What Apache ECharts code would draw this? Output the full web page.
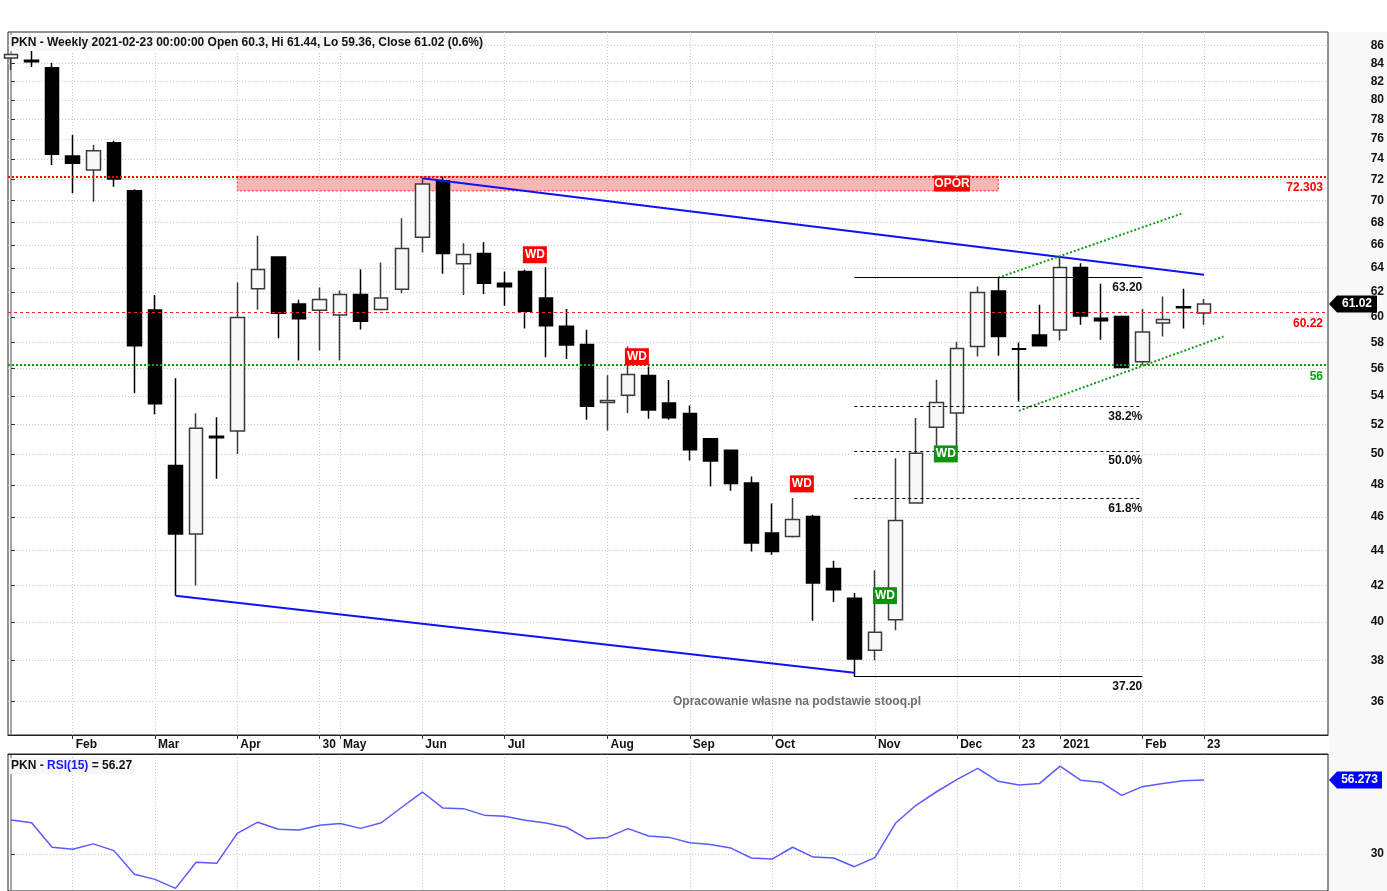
<!DOCTYPE html>
<html>
<head>
<meta charset="utf-8">
<script src="https://cdn.jsdelivr.net/npm/echarts@6/dist/echarts.min.js"></script>
<style>
  html, body { margin: 0; padding: 0; background: #fff; }
  #main { width: 1387px; height: 891px; }
</style>
</head>
<body>
<div id="main"></div>
<script>
// weekly bars, PKN, Jan 2020 - Feb 2021
const dates = ['2020-01-17','2020-01-24','2020-01-31','2020-02-07','2020-02-14','2020-02-21','2020-02-28',
  '2020-03-06','2020-03-13','2020-03-20','2020-03-27','2020-04-03','2020-04-09','2020-04-17','2020-04-24',
  '2020-04-30','2020-05-08','2020-05-15','2020-05-22','2020-05-29','2020-06-05','2020-06-12','2020-06-19',
  '2020-06-26','2020-07-03','2020-07-10','2020-07-17','2020-07-24','2020-07-31','2020-08-07','2020-08-14',
  '2020-08-21','2020-08-28','2020-09-04','2020-09-11','2020-09-18','2020-09-25','2020-10-02','2020-10-09',
  '2020-10-16','2020-10-23','2020-10-30','2020-11-06','2020-11-13','2020-11-20','2020-11-27','2020-12-04',
  '2020-12-11','2020-12-18','2020-12-23','2020-12-30','2021-01-08','2021-01-15','2021-01-22','2021-01-29',
  '2021-02-05','2021-02-12','2021-02-19','2021-02-23'];
const opens = [84.6, 84.35, 83.52, 74.29, 72.92, 75.61, 70.94, 60.55, 49.25, 44.96, 51.2, 51.55, 62.27, 64.95, 61.02,
  60.53, 60.15, 61.80, 60.58, 62.24, 66.69, 71.89, 64.37, 65.26, 62.74, 63.72, 61.51, 59.25, 57.84, 53.55,
  54.06, 55.50, 53.51, 52.77, 51.03, 50.26, 48.11, 45.03, 44.81, 46.02, 42.95, 41.29, 38.53, 40.13, 46.86,
  51.82, 52.80, 57.68, 62.10, 57.50, 58.56, 58.95, 64.05, 59.89, 60.02, 56.52, 59.50, 60.80, 60.3];
const closes = [85.0, 84.2, 74.45, 73.57, 74.81, 72.05, 57.73, 53.45, 44.96, 51.75, 51.1, 59.94, 63.88, 60.29, 59.84,
  61.39, 61.80, 59.65, 61.51, 65.69, 71.58, 65.26, 65.17, 62.74, 62.44, 60.45, 59.29, 57.80, 53.27, 53.69,
  55.58, 53.02, 52.47, 50.28, 49.54, 48.08, 44.43, 43.93, 45.84, 42.13, 41.76, 38.09, 39.47, 45.78, 50.06,
  53.55, 57.52, 61.96, 58.45, 57.46, 57.73, 64.05, 60.07, 59.68, 56.09, 58.79, 59.78, 60.72, 61.02];
const highs = [85.1, 85.4, 84.08, 76.39, 75.38, 75.81, 71.07, 61.77, 55.30, 52.79, 52.51, 62.79, 66.81, 64.98, 61.37,
  62.38, 62.13, 63.92, 64.48, 68.39, 72.12, 72.27, 66.16, 66.25, 63.72, 63.86, 64.07, 60.62, 58.97, 55.52,
  57.68, 56.17, 55.17, 53.34, 51.08, 50.30, 48.54, 46.82, 47.17, 46.13, 43.40, 41.58, 42.85, 49.73, 52.45,
  55.19, 58.05, 62.46, 63.20, 57.98, 60.96, 64.95, 64.43, 62.69, 60.10, 60.62, 61.64, 62.27, 61.44];
const lows = [83.27, 83.6, 73.40, 70.70, 69.91, 71.32, 54.21, 52.72, 41.42, 41.99, 48.38, 50.00, 60.56, 58.32, 56.62,
  57.37, 56.62, 59.00, 60.50, 61.91, 65.34, 63.52, 61.77, 61.85, 60.88, 59.07, 56.86, 56.72, 52.33, 51.59,
  52.80, 52.40, 52.33, 49.58, 47.89, 47.63, 43.93, 43.74, 44.75, 40.07, 41.08, 37.20, 38.02, 39.57, 46.82,
  50.20, 50.28, 56.92, 56.97, 53.62, 57.73, 58.13, 59.36, 58.19, 56.07, 56.29, 58.45, 59.07, 59.36];
const rsi = [42.07, 41.1, 32.4, 31.7, 33.6, 31.2, 22.8, 21.0, 17.8, 27.1, 26.7, 37.3, 41.3, 38.8, 38.5, 40.2,
  40.8, 39.1, 41.1, 46.6, 52.0, 46.3, 46.1, 43.8, 43.4, 42.0, 41.0, 39.5, 35.4, 35.9, 39.0, 36.4, 35.9,
  34.0, 33.4, 32.1, 28.6, 28.2, 32.4, 28.9, 28.6, 25.5, 28.7, 40.9, 47.3, 52.1, 56.5, 60.4, 55.8, 54.5,
  55.0, 61.2, 56.2, 55.5, 50.8, 53.9, 55.0, 56.0, 56.27];

// x-axis labels (bar index -> text)
const tickIdx = [3, 7, 11, 15, 16, 20, 24, 29, 33, 37, 42, 46, 49, 51, 55, 58];
const tickLabels = ['Feb', 'Mar', 'Apr', '30', 'May', 'Jun', 'Jul', 'Aug', 'Sep', 'Oct', 'Nov', 'Dec', '23', '2021', 'Feb', '23'];
const priceTicks = [36, 38, 40, 42, 44, 46, 48, 50, 52, 54, 56, 58, 60, 62, 64, 66, 68, 70, 72, 74, 76, 78, 80, 82, 84, 86];
const rsiTicks = [30];

// drawings
const resistance = 72.303, pivot = 60.22, support = 56;
const zoneBottom = 70.92, zoneFrom = 11, zoneTo = 48;
const upperChannel = [[20, 72.12], [58, 63.45]];
const lowerChannel = [[8, 41.42], [41, 37.40]];
const greenUpper = [[48, 63.2], [56.9, 68.8]];
const greenLower = [[49, 52.96], [58.95, 58.45]];
const fibLevels = [63.20, 53.27, 50.20, 47.13, 37.20];
const fibLabels = ['63.20', '38.2%', '50.0%', '61.8%', '37.20'];
const fibFrom = 41, fibTo = 55;
const wdMarks = [[25.47, 65.15, 'r'], [30.43, 56.90, 'r'], [38.45, 48.06, 'r'], [45.45, 50.01, 'g'], [42.49, 41.43, 'g']];

const L = Math.log;
const FONT = 'Liberation Sans';
const xMin = -0.146, xMax = 64.03;

const candleData = dates.map((d, i) => [i, L(opens[i]), L(closes[i]), L(lows[i]), L(highs[i])]);

const fibLines = fibLevels.map((v, i) => {
  const solid = i === 0 || i === fibLevels.length - 1;
  return [
    { coord: [fibFrom, L(v)], lineStyle: { color: '#000', width: 1, type: solid ? 'solid' : [3, 3] },
      label: { show: true, formatter: fibLabels[i], position: 'insideEndBottom', color: '#111', fontWeight: 'bold', fontSize: 12, fontFamily: FONT, distance: [0, 4] } },
    { coord: [fibTo, L(v)] }
  ];
});

const wdPoints = wdMarks.map(m => ({
  coord: [m[0], L(m[1])],
  symbol: 'rect', symbolSize: [24, 17],
  itemStyle: { color: m[2] === 'r' ? '#ff0000' : '#129012' },
  label: { show: true, formatter: 'WD', color: '#fff', fontWeight: 'bold', fontSize: 12, fontFamily: FONT }
}));

const axisLabelStyle = { color: '#111', fontWeight: 'bold', fontSize: 12, fontFamily: FONT };
const gridDots = { show: true, lineStyle: { color: '#c9c9c9', type: [1, 2], width: 1 } };

const option = {
  animation: false,
  backgroundColor: '#fff',
  grid: [
    { left: 8, top: 32, width: 1320, height: 703, show: true, borderColor: '#222', borderWidth: 1, backgroundColor: '#fff' },
    { left: 8, top: 754, width: 1320, height: 140, show: true, borderColor: '#222', borderWidth: 1, backgroundColor: '#fff' }
  ],
  xAxis: [
    {
      type: 'value', gridIndex: 0, min: xMin, max: xMax, position: 'bottom',
      axisLine: { show: true, lineStyle: { color: '#222' } },
      axisTick: { show: true, length: 4, customValues: tickIdx, lineStyle: { color: '#333' } },
      axisLabel: Object.assign({ customValues: tickIdx, align: 'left', margin: 4, padding: [0, 0, 0, 3],
        formatter: v => tickLabels[tickIdx.indexOf(Math.round(v))] }, axisLabelStyle),
      splitLine: gridDots
    },
    {
      type: 'value', gridIndex: 1, min: xMin, max: xMax, position: 'top',
      axisLine: { show: true, lineStyle: { color: '#222' } },
      axisTick: { show: false, customValues: tickIdx },
      axisLabel: { show: false, customValues: tickIdx },
      splitLine: gridDots
    }
  ],
  yAxis: [
    {
      type: 'value', gridIndex: 0, position: 'right', min: L(34.43), max: L(87.58),
      axisLine: { show: true, lineStyle: { color: '#888', width: 1.5 } },
      axisTick: { show: true, length: 4, customValues: priceTicks.map(L), lineStyle: { color: '#333' } },
      axisLabel: Object.assign({ customValues: priceTicks.map(L), align: 'right', margin: 56,
        formatter: v => String(Math.round(Math.exp(v))) }, axisLabelStyle),
      splitLine: gridDots
    },
    {
      type: 'value', gridIndex: 1, position: 'right', min: 16.87, max: 65.5,
      axisLine: { show: true, lineStyle: { color: '#888', width: 1.5 } },
      axisTick: { show: true, length: 4, customValues: rsiTicks, lineStyle: { color: '#333' } },
      axisLabel: Object.assign({ customValues: rsiTicks, align: 'right', margin: 56 }, axisLabelStyle),
      splitLine: gridDots
    }
  ],
  series: [
    {
      name: 'PKN', type: 'candlestick', xAxisIndex: 0, yAxisIndex: 0,
      encode: { x: 0, y: [1, 2, 3, 4] },
      barWidth: 14,
      data: candleData,
      itemStyle: { color: '#f8f8f8', color0: '#000', borderColor: '#3a3a3a', borderColor0: '#000', borderWidth: 1.5 },
      markArea: {
        silent: true,
        itemStyle: { color: 'rgba(242,110,110,0.5)', borderColor: '#ff3030', borderType: [2, 2], borderWidth: 1 },
        data: [[{ xAxis: zoneFrom, yAxis: L(resistance) }, { xAxis: zoneTo, yAxis: L(zoneBottom) }]]
      },
      markLine: {
        silent: true, symbol: 'none',
        data: [
          { yAxis: L(resistance), lineStyle: { color: '#ff0000', type: [2, 2], width: 2 },
            label: { formatter: String(resistance), position: 'insideEndBottom', color: '#ff0000', fontWeight: 'bold', fontSize: 12, fontFamily: FONT } },
          { yAxis: L(pivot), lineStyle: { color: '#ff2020', type: [3, 3], width: 1 },
            label: { formatter: String(pivot), position: 'insideEndBottom', color: '#ff0000', fontWeight: 'bold', fontSize: 12, fontFamily: FONT } },
          { yAxis: L(support), lineStyle: { color: '#129a12', type: [2, 2], width: 2 },
            label: { formatter: String(support), position: 'insideEndBottom', color: '#129a12', fontWeight: 'bold', fontSize: 12, fontFamily: FONT } }
        ].concat(fibLines)
      },
      markPoint: {
        silent: true,
        data: wdPoints.concat([{
          coord: [45.75, L(71.62)], symbol: 'rect', symbolSize: [36, 16],
          itemStyle: { color: '#ff0000' },
          label: { show: true, formatter: 'OPÓR', color: '#fff', fontWeight: 'bold', fontSize: 12, fontFamily: FONT }
        }])
      },
      z: 3
    },
    {
      name: 'upper', type: 'line', xAxisIndex: 0, yAxisIndex: 0, symbol: 'none', silent: true,
      data: upperChannel.map(p => [p[0], L(p[1])]),
      lineStyle: { color: '#1010ff', width: 2 },
      markPoint: { symbol: 'rect', symbolSize: 1, itemStyle: { opacity: 0 },
        data: [{ coord: [42.73, L(67.96)], label: { show: true, position: 'inside', formatter: 'KANAŁ SPADKOWY', color: '#1010ff', fontWeight: 'bold', fontSize: 12, fontFamily: FONT } }] },
      z: 4
    },
    {
      name: 'lower', type: 'line', xAxisIndex: 0, yAxisIndex: 0, symbol: 'none', silent: true,
      data: lowerChannel.map(p => [p[0], L(p[1])]),
      lineStyle: { color: '#1010ff', width: 2 },
      markPoint: { symbol: 'rect', symbolSize: 1, itemStyle: { opacity: 0 },
        data: [{ coord: [33.69, L(39.03)], label: { show: true, position: 'inside', formatter: 'KANAŁ SPADKOWY', color: '#1010ff', fontWeight: 'bold', fontSize: 12, fontFamily: FONT } }] },
      z: 4
    },
    {
      name: 'greenUp', type: 'line', xAxisIndex: 0, yAxisIndex: 0, symbol: 'none', silent: true,
      data: greenUpper.map(p => [p[0], L(p[1])]),
      lineStyle: { color: '#1a9a1a', width: 2, type: [2, 2] }, z: 4
    },
    {
      name: 'greenLow', type: 'line', xAxisIndex: 0, yAxisIndex: 0, symbol: 'none', silent: true,
      data: greenLower.map(p => [p[0], L(p[1])]),
      lineStyle: { color: '#1a9a1a', width: 2, type: [2, 2] }, z: 4
    },
    {
      name: 'RSI(15)', type: 'line', xAxisIndex: 1, yAxisIndex: 1, symbol: 'none', silent: true,
      data: rsi.map((v, i) => [i, v]),
      lineStyle: { color: '#5a5aff', width: 1.5 }
    }
  ],
  graphic: [
    { id: 'rightPanel', type: 'rect', z: -1, shape: { x: 1329, y: 32, width: 58, height: 859 }, style: { fill: '#f8f8f8' } },
    { id: 'title', type: 'text', left: 9, top: 35, z: 10,
      style: { text: 'PKN - Weekly 2021-02-23 00:00:00 Open 60.3, Hi 61.44, Lo 59.36, Close 61.02 (0.6%)',
        fill: '#111', font: 'bold 12px "' + FONT + '"', backgroundColor: 'rgba(246,246,246,0.95)', padding: [2, 2] } },
    { id: 'rsiTitle', type: 'text', left: 9, top: 758, z: 10,
      style: { text: '{a|PKN - }{b|RSI(15)}{a| = 56.27}', backgroundColor: 'rgba(246,246,246,0.95)', padding: [2, 2],
        rich: { a: { fill: '#111', font: 'bold 12px "' + FONT + '"' }, b: { fill: '#1a1aff', font: 'bold 12px "' + FONT + '"' } } } },
    { id: 'source', type: 'text', x: 797, y: 702, z: 10,
      style: { text: 'Opracowanie własne na podstawie stooq.pl', fill: '#6e6e6e', font: 'bold 12px "' + FONT + '"', align: 'center', verticalAlign: 'middle' } }
  ]
};

const chart = echarts.init(document.getElementById('main'), null, { renderer: 'canvas' });
chart.setOption(option);

// price tags on the right axis, placed through the axis scales
function tag(id, yPix, text, color, w) {
  const x0 = 1329, h = 17;
  return [
    { id: id + 'Box', type: 'polygon', z: 20,
      shape: { points: [[x0, yPix], [x0 + 8, yPix - h / 2], [x0 + w, yPix - h / 2], [x0 + w, yPix + h / 2], [x0 + 8, yPix + h / 2]] },
      style: { fill: color } },
    { id: id + 'Txt', type: 'text', z: 21, x: x0 + 8 + (w - 8) / 2, y: yPix,
      style: { text: text, fill: '#fff', font: 'bold 12px "' + FONT + '"', align: 'center', verticalAlign: 'middle' } }
  ];
}
const last = closes.length - 1;
const yClose = chart.convertToPixel({ yAxisIndex: 0 }, L(closes[last]));
const yRsi = chart.convertToPixel({ yAxisIndex: 1 }, rsi[last]);
chart.setOption({
  graphic: tag('close', yClose, closes[last].toFixed(2), '#000', 48).concat(tag('rsi', yRsi, '56.273', '#0000ff', 53))
});
</script>
</body>
</html>
